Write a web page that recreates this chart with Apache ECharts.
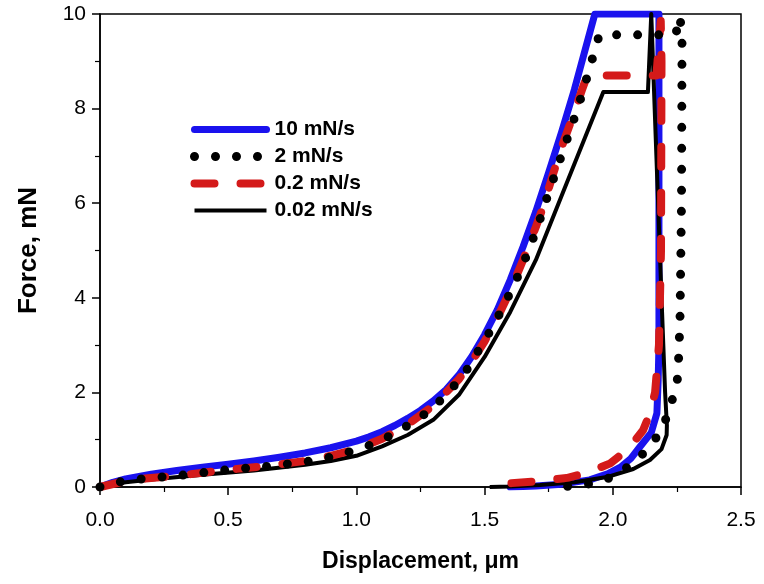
<!DOCTYPE html>
<html><head><meta charset="utf-8">
<script src="https://cdn.jsdelivr.net/npm/echarts@6/dist/echarts.min.js"></script>
<style>html,body{margin:0;padding:0;background:#fff}#c{width:764px;height:584px}</style>
</head><body><div id="c"></div>
<script>
// Series names
const seriesNames = ['10 mN/s', '2 mN/s', '0.2 mN/s', '0.02 mN/s'];
// Tick labels
const xTicks = [0, 0.5, 1.0, 1.5, 2.0, 2.5];
const yTicks = [0, 2, 4, 6, 8, 10];

// 10 mN/s (displacement um, force mN)
const x10 = [0,0.05,0.1,0.2,0.3,0.4,0.5,0.6,0.7,0.8,0.9,1.0,1.05,1.1,1.15,1.2,1.25,1.3,1.35,1.4,1.45,1.5,1.55,1.6,1.65,1.7,1.75,1.8,1.85,1.93,2.0,2.1,2.18,2.18,2.18,2.177,2.172,2.15,2.106,2.07,2.03,1.98,1.91,1.8,1.7,1.6];
const f10 = [0,0.1,0.17,0.27,0.35,0.42,0.48,0.55,0.63,0.72,0.83,0.97,1.06,1.17,1.3,1.45,1.62,1.82,2.06,2.37,2.76,3.22,3.75,4.38,5.08,5.83,6.65,7.5,8.4,10,10,10,10,6,3,2.26,1.56,1.15,0.85,0.6,0.42,0.28,0.15,0.06,0.02,0];

// 2 mN/s
const x2 = [0,0.08,0.16,0.32,0.49,0.64,0.8,0.9,0.97,1.05,1.12,1.21,1.29,1.365,1.43,1.48,1.53,1.57,1.61,1.646,1.677,1.708,1.73,1.763,1.8,1.845,1.88,1.919,1.938,1.95,2.1,2.245,2.262,2.27,2.268,2.262,2.254,2.235,2.211,2.172,2.106,2.028,1.95,1.86,1.78];
const f2 = [0,0.11,0.17,0.25,0.36,0.43,0.53,0.63,0.74,0.88,1.05,1.33,1.63,2.03,2.47,2.92,3.37,3.78,4.22,4.65,5.08,5.52,5.9,6.43,7.01,7.72,8.3,9.03,9.42,9.56,9.56,9.56,9.95,9.5,6,3.5,2.33,1.9,1.48,1.06,0.63,0.3,0.1,0.03,0];

// 0.2 mN/s
const x02 = [0,0.08,0.16,0.32,0.49,0.64,0.8,0.9,1.0,1.1,1.2,1.3,1.4,1.45,1.5,1.55,1.6,1.65,1.7,1.728,1.766,1.806,1.845,1.88,1.9,2.05,2.17,2.187,2.19,2.188,2.18,2.165,2.145,2.118,2.06,1.99,1.9,1.82,1.7,1.6,1.57];
const f02 = [0,0.1,0.17,0.25,0.36,0.44,0.55,0.66,0.8,1.02,1.32,1.72,2.28,2.65,3.08,3.58,4.15,4.8,5.5,5.92,6.6,7.27,7.85,8.4,8.7,8.7,8.7,9.85,9.0,5,3,2.0,1.56,1.2,0.8,0.5,0.3,0.19,0.12,0.08,0.05];

// 0.02 mN/s
const x002 = [0,0.1,0.2,0.4,0.6,0.8,0.9,1.0,1.1,1.2,1.3,1.4,1.5,1.6,1.7,1.8,1.963,2.05,2.137,2.15,2.17,2.19,2.204,2.211,2.21,2.19,2.145,2.08,1.977,1.85,1.716,1.6,1.52];
const f002 = [0,0.1,0.16,0.26,0.35,0.47,0.55,0.66,0.86,1.1,1.42,1.95,2.75,3.7,4.8,6.15,8.35,8.35,8.35,10,7,4,2.0,1.3,1.1,0.8,0.57,0.38,0.21,0.1,0.04,0.01,0];

function zip(xs, ys){ return xs.map((x,i)=>[x, ys[i]]); }

const chart = echarts.init(document.getElementById('c'), null, {renderer:'canvas'});
const font = 'Liberation Sans, Arial, sans-serif';
const axisCommon = {
  axisLine:{show:true, onZero:false, lineStyle:{color:'#000', width:1.5}},
  axisTick:{show:true, inside:false, length:8, lineStyle:{color:'#000', width:1.5}},
  minorTick:{show:true, splitNumber:2, length:5, lineStyle:{color:'#000', width:1.2}},
  splitLine:{show:false},
  axisLabel:{color:'#000', fontSize:21, fontFamily:font},
  nameTextStyle:{color:'#000', fontSize:23, fontWeight:'bold', fontFamily:font}
};
chart.setOption({
  animation:false,
  backgroundColor:'#fff',
  grid:{left:100, right:23, top:14, bottom:97, show:true, borderColor:'#000', borderWidth:1.5, backgroundColor:'transparent'},
  legend:{
    show:true, orient:'vertical', left:190, top:119, padding:0, itemWidth:72, itemHeight:14, itemGap:6,
    data:seriesNames,
    itemStyle:{color:'rgba(0,0,0,0)', borderColor:'rgba(0,0,0,0)', borderWidth:0},
    lineStyle:{width:'inherit', type:'inherit', cap:'inherit'},
    textStyle:{color:'#000', fontSize:21, fontWeight:'bold', fontFamily:font, padding:[0,0,0,3]}
  },
  xAxis:Object.assign({}, axisCommon, {
    type:'value', min:0, max:2.5, interval:0.5,
    name:'Displacement, μm', nameLocation:'middle', nameGap:63,
    axisLabel:Object.assign({}, axisCommon.axisLabel, {margin:23, formatter:v=>v.toFixed(1)})
  }),
  yAxis:Object.assign({}, axisCommon, {
    type:'value', min:0, max:10, interval:2,
    name:'Force, mN', nameLocation:'middle', nameGap:58,
    nameTextStyle:Object.assign({}, axisCommon.nameTextStyle, {fontSize:26}),
    axisLabel:Object.assign({}, axisCommon.axisLabel, {margin:14})
  }),
  series:[
    {name:seriesNames[0], type:'line', data:zip(x10,f10), symbol:'none', z:2,
     lineStyle:{color:'#1a12ee', width:7, cap:'round', join:'round'}, itemStyle:{color:'#1a12ee'}},
    {name:seriesNames[3], type:'line', data:zip(x002,f002), symbol:'none', z:3,
     lineStyle:{color:'#000', width:4, join:'round'}, itemStyle:{color:'#000'}},
    {name:seriesNames[2], type:'line', data:zip(x02,f02), symbol:'none', z:4,
     lineStyle:{color:'#d41a1a', width:8, type:[20,26], cap:'round', join:'round'}, itemStyle:{color:'#d41a1a'}},
    {name:seriesNames[1], type:'line', data:zip(x2,f2), symbol:'none', z:5,
     lineStyle:{color:'#000', width:9, type:[0,21], cap:'round', join:'round'}, itemStyle:{color:'#000'}}
  ]
});
</script></body></html>
